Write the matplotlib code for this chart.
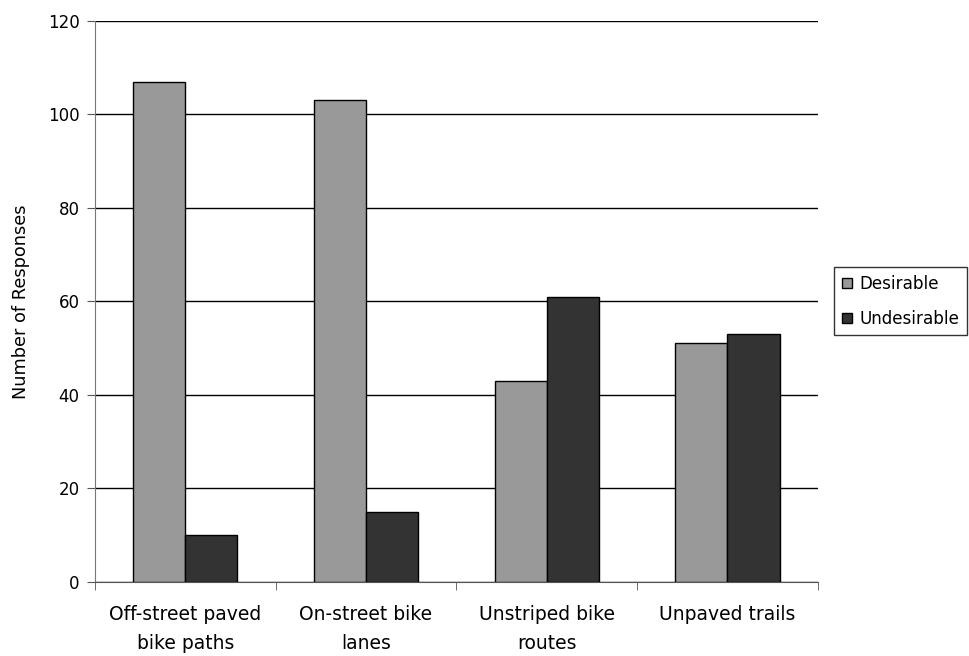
import numpy as np
import matplotlib
matplotlib.use("Agg")
from matplotlib import pyplot as plt

categories = ["Off-street paved\nbike paths", "On-street bike\nlanes",
              "Unstriped bike\nroutes", "Unpaved trails"]
desirable = [107, 103, 43, 51]
undesirable = [10, 15, 61, 53]

fig = plt.figure(figsize=(9.69, 6.56), dpi=100)
ax = fig.add_axes([0.098, 0.113, 0.746, 0.855])

x = np.arange(len(categories))
w = 0.288
ax.bar(x - w / 2, desirable, w, color="#999999", edgecolor="black", linewidth=1, label="Desirable", zorder=3)
ax.bar(x + w / 2, undesirable, w, color="#333333", edgecolor="black", linewidth=1, label="Undesirable", zorder=3)

ax.set_xlim(-0.5, len(categories) - 0.5)
ax.set_ylim(0, 120)
ax.set_yticks(range(0, 121, 20))
ax.yaxis.grid(True, color="black", linewidth=1, zorder=0)

ax.set_xticks(x)
ax.set_xticklabels(categories, fontsize=13.5, linespacing=1.65)
ax.tick_params(axis="x", which="major", length=0, pad=17)
ax.set_xticks(np.arange(-0.5, len(categories), 1), minor=True)
ax.tick_params(axis="x", which="minor", length=6, color="#555555")
ax.tick_params(axis="y", length=6, color="#555555", labelsize=12, pad=5)

for s in ["top", "right"]:
    ax.spines[s].set_visible(False)
ax.spines["left"].set_color("#777777")
ax.spines["bottom"].set_color("#555555")

ax.set_ylabel("Number of Responses", fontsize=12.8, labelpad=13)

leg = ax.legend(loc="center left", bbox_to_anchor=(1.023, 0.5), frameon=True, fancybox=False,
                fontsize=12.1, handlelength=0.6, handleheight=0.6, handletextpad=0.45,
                borderpad=0.45, borderaxespad=0, labelspacing=1.0)
leg.get_frame().set_edgecolor("black")
leg.get_frame().set_linewidth(1)

fig.savefig("out.png", dpi=100)
